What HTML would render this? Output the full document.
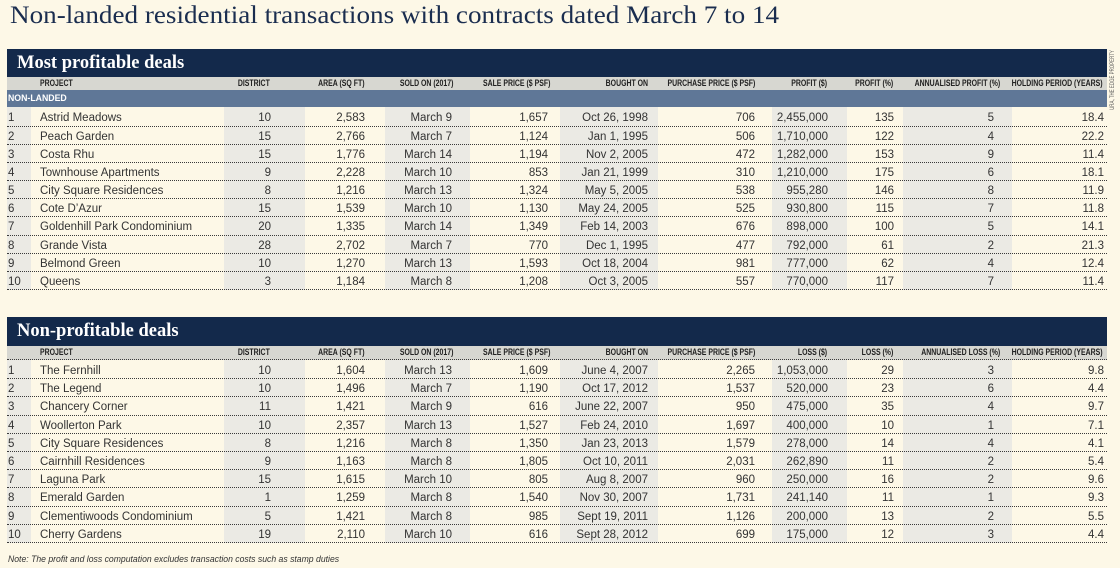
<!DOCTYPE html>
<html>
<head>
<meta charset="utf-8">
<style>
html,body{margin:0;padding:0;}
body{width:1120px;height:568px;background:#fdf8e7;position:relative;overflow:hidden;font-family:"Liberation Sans",Arial,sans-serif;color:#333;}
.title{position:absolute;left:10px;top:2.5px;font-family:"Liberation Serif",serif;font-size:25px;line-height:25px;color:#1a2d4f;white-space:nowrap;transform:scaleX(1.085);transform-origin:left center;}
.sec{position:absolute;left:7px;width:1100px;}
.band{position:relative;background:#13294b;}
.band .t{position:absolute;left:10px;top:4.5px;font-family:"Liberation Serif",serif;font-weight:bold;font-size:18.5px;line-height:18.5px;color:#fff;white-space:nowrap;}
.h{display:flex;background:#d7d7d1;box-sizing:border-box;}
.h>span{position:relative;flex:none;height:100%;}
.h b{position:absolute;top:0;white-space:nowrap;font-size:9.5px;font-weight:bold;color:#222;transform:scaleX(.73);transform-origin:right center;}
.h span:nth-child(2) b{left:9px;transform-origin:left center;}
.h span:nth-child(3) b{right:35px}
.h span:nth-child(4) b{right:20px}
.h span:nth-child(5) b{right:17px}
.h span:nth-child(6) b{right:10px}
.h span:nth-child(7) b{right:10px}
.h span:nth-child(8) b{right:17px}
.h span:nth-child(9) b{right:20px}
.h span:nth-child(10) b{right:10px}
.h span:nth-child(11) b{right:12px}
.h span:nth-child(12) b{right:4px}
.nl{background:#5f7797;height:17px;line-height:17px;color:#fff;font-weight:bold;font-size:9.5px;}
.nl b{display:inline-block;margin-left:1px;transform:scaleX(.92);transform-origin:left center;}
.body{position:relative;}
.st{position:absolute;top:0;bottom:0;background:#ebeae4;}
.r{position:relative;display:flex;box-sizing:border-box;border-bottom:1px dotted #3a3a3a;font-size:11.5px;white-space:nowrap;}
.r>span{flex:none;box-sizing:border-box;text-align:right;overflow:visible;}
.r>span:nth-child(1),.h>span:nth-child(1){width:24px}
.r>span:nth-child(1){text-align:left;padding-left:1px}
.r>span:nth-child(2),.h>span:nth-child(2){width:193px}
.r>span:nth-child(2){text-align:left;padding-left:9px}
.r>span:nth-child(3),.h>span:nth-child(3){width:81px}
.r>span:nth-child(3){padding-right:34px}
.r>span:nth-child(4),.h>span:nth-child(4){width:80px}
.r>span:nth-child(4){padding-right:20px}
.r>span:nth-child(5),.h>span:nth-child(5){width:85px}
.r>span:nth-child(5){padding-right:18px}
.r>span:nth-child(6),.h>span:nth-child(6){width:90px}
.r>span:nth-child(6){padding-right:12px}
.r>span:nth-child(7),.h>span:nth-child(7){width:98px}
.r>span:nth-child(7){padding-right:10px}
.r>span:nth-child(8),.h>span:nth-child(8){width:114px}
.r>span:nth-child(8){padding-right:17px}
.r>span:nth-child(9),.h>span:nth-child(9){width:75px}
.r>span:nth-child(9){padding-right:19px}
.r>span:nth-child(10),.h>span:nth-child(10){width:56px}
.r>span:nth-child(10){padding-right:9px}
.r>span:nth-child(11),.h>span:nth-child(11){width:109px}
.r>span:nth-child(11){padding-right:18px}
.r>span:nth-child(12),.h>span:nth-child(12){width:95px}
.r>span:nth-child(12){padding-right:3px}
.s1 .r{height:18.1px;line-height:20px;}
.s1 .r.first{height:20px;line-height:23px;}
.s2 .r{height:18.2px;line-height:20px;}
.note{position:absolute;left:8px;top:554px;font-size:9.5px;font-style:italic;color:#333;white-space:nowrap;transform:scaleX(.91);transform-origin:left center;line-height:12px;}
.credit{position:absolute;left:1063px;top:76px;width:100px;height:8px;line-height:8px;text-align:center;font-size:6.5px;color:#555;white-space:nowrap;transform:rotate(-90deg) scaleX(.68);transform-origin:50% 50%;}
</style>
</head>
<body>
<div class="title">Non-landed residential transactions with contracts dated March 7 to 14</div>
<div class="credit">URA, THE EDGE PROPERTY</div>

<div class="sec s1" style="top:49px;">
  <div class="band" style="height:28px;"><div class="t">Most profitable deals</div></div>
  <div class="h" style="height:13px;">
    <span></span><span><b style="line-height:13px">PROJECT</b></span><span><b style="line-height:13px">DISTRICT</b></span><span><b style="line-height:13px">AREA (SQ FT)</b></span><span><b style="line-height:13px">SOLD ON (2017)</b></span><span><b style="line-height:13px">SALE PRICE ($ PSF)</b></span><span><b style="line-height:13px">BOUGHT ON</b></span><span><b style="line-height:13px">PURCHASE PRICE ($ PSF)</b></span><span><b style="line-height:13px">PROFIT ($)</b></span><span><b style="line-height:13px">PROFIT (%)</b></span><span><b style="line-height:13px">ANNUALISED PROFIT (%)</b></span><span><b style="line-height:13px">HOLDING PERIOD (YEARS)</b></span>
  </div>
  <div class="nl"><b>NON-LANDED</b></div>
  <div class="body">
    <div class="st" style="left:0;width:24px"></div>
    <div class="st" style="left:217px;width:81px"></div>
    <div class="st" style="left:378px;width:85px"></div>
    <div class="st" style="left:553px;width:98px"></div>
    <div class="st" style="left:765px;width:75px"></div>
    <div class="st" style="left:896px;width:109px"></div>
    <div class="r first"><span>1</span><span>Astrid Meadows</span><span>10</span><span>2,583</span><span>March 9</span><span>1,657</span><span>Oct 26, 1998</span><span>706</span><span>2,455,000</span><span>135</span><span>5</span><span>18.4</span></div>
    <div class="r"><span>2</span><span>Peach Garden</span><span>15</span><span>2,766</span><span>March 7</span><span>1,124</span><span>Jan 1, 1995</span><span>506</span><span>1,710,000</span><span>122</span><span>4</span><span>22.2</span></div>
    <div class="r"><span>3</span><span>Costa Rhu</span><span>15</span><span>1,776</span><span>March 14</span><span>1,194</span><span>Nov 2, 2005</span><span>472</span><span>1,282,000</span><span>153</span><span>9</span><span>11.4</span></div>
    <div class="r"><span>4</span><span>Townhouse Apartments</span><span>9</span><span>2,228</span><span>March 10</span><span>853</span><span>Jan 21, 1999</span><span>310</span><span>1,210,000</span><span>175</span><span>6</span><span>18.1</span></div>
    <div class="r"><span>5</span><span>City Square Residences</span><span>8</span><span>1,216</span><span>March 13</span><span>1,324</span><span>May 5, 2005</span><span>538</span><span>955,280</span><span>146</span><span>8</span><span>11.9</span></div>
    <div class="r"><span>6</span><span>Cote D’Azur</span><span>15</span><span>1,539</span><span>March 10</span><span>1,130</span><span>May 24, 2005</span><span>525</span><span>930,800</span><span>115</span><span>7</span><span>11.8</span></div>
    <div class="r"><span>7</span><span>Goldenhill Park Condominium</span><span>20</span><span>1,335</span><span>March 14</span><span>1,349</span><span>Feb 14, 2003</span><span>676</span><span>898,000</span><span>100</span><span>5</span><span>14.1</span></div>
    <div class="r"><span>8</span><span>Grande Vista</span><span>28</span><span>2,702</span><span>March 7</span><span>770</span><span>Dec 1, 1995</span><span>477</span><span>792,000</span><span>61</span><span>2</span><span>21.3</span></div>
    <div class="r"><span>9</span><span>Belmond Green</span><span>10</span><span>1,270</span><span>March 13</span><span>1,593</span><span>Oct 18, 2004</span><span>981</span><span>777,000</span><span>62</span><span>4</span><span>12.4</span></div>
    <div class="r"><span>10</span><span>Queens</span><span>3</span><span>1,184</span><span>March 8</span><span>1,208</span><span>Oct 3, 2005</span><span>557</span><span>770,000</span><span>117</span><span>7</span><span>11.4</span></div>
  </div>
</div>

<div class="sec s2" style="top:317px;">
  <div class="band" style="height:29px;"><div class="t" style="top:5px">Non-profitable deals</div></div>
  <div class="h" style="height:14px;border-bottom:1px dotted #3a3a3a;">
    <span></span><span><b style="line-height:13px">PROJECT</b></span><span><b style="line-height:13px">DISTRICT</b></span><span><b style="line-height:13px">AREA (SQ FT)</b></span><span><b style="line-height:13px">SOLD ON (2017)</b></span><span><b style="line-height:13px">SALE PRICE ($ PSF)</b></span><span><b style="line-height:13px">BOUGHT ON</b></span><span><b style="line-height:13px">PURCHASE PRICE ($ PSF)</b></span><span><b style="line-height:13px">LOSS ($)</b></span><span><b style="line-height:13px">LOSS (%)</b></span><span><b style="line-height:13px">ANNUALISED LOSS (%)</b></span><span><b style="line-height:13px">HOLDING PERIOD (YEARS)</b></span>
  </div>
  <div class="body">
    <div class="st" style="left:0;width:24px"></div>
    <div class="st" style="left:217px;width:81px"></div>
    <div class="st" style="left:378px;width:85px"></div>
    <div class="st" style="left:553px;width:98px"></div>
    <div class="st" style="left:765px;width:75px"></div>
    <div class="st" style="left:896px;width:109px"></div>
    <div class="r" style="height:19.3px;line-height:22px"><span>1</span><span>The Fernhill</span><span>10</span><span>1,604</span><span>March 13</span><span>1,609</span><span>June 4, 2007</span><span>2,265</span><span>1,053,000</span><span>29</span><span>3</span><span>9.8</span></div>
    <div class="r"><span>2</span><span>The Legend</span><span>10</span><span>1,496</span><span>March 7</span><span>1,190</span><span>Oct 17, 2012</span><span>1,537</span><span>520,000</span><span>23</span><span>6</span><span>4.4</span></div>
    <div class="r"><span>3</span><span>Chancery Corner</span><span>11</span><span>1,421</span><span>March 9</span><span>616</span><span>June 22, 2007</span><span>950</span><span>475,000</span><span>35</span><span>4</span><span>9.7</span></div>
    <div class="r"><span>4</span><span>Woollerton Park</span><span>10</span><span>2,357</span><span>March 13</span><span>1,527</span><span>Feb 24, 2010</span><span>1,697</span><span>400,000</span><span>10</span><span>1</span><span>7.1</span></div>
    <div class="r"><span>5</span><span>City Square Residences</span><span>8</span><span>1,216</span><span>March 8</span><span>1,350</span><span>Jan 23, 2013</span><span>1,579</span><span>278,000</span><span>14</span><span>4</span><span>4.1</span></div>
    <div class="r"><span>6</span><span>Cairnhill Residences</span><span>9</span><span>1,163</span><span>March 8</span><span>1,805</span><span>Oct 10, 2011</span><span>2,031</span><span>262,890</span><span>11</span><span>2</span><span>5.4</span></div>
    <div class="r"><span>7</span><span>Laguna Park</span><span>15</span><span>1,615</span><span>March 10</span><span>805</span><span>Aug 8, 2007</span><span>960</span><span>250,000</span><span>16</span><span>2</span><span>9.6</span></div>
    <div class="r"><span>8</span><span>Emerald Garden</span><span>1</span><span>1,259</span><span>March 8</span><span>1,540</span><span>Nov 30, 2007</span><span>1,731</span><span>241,140</span><span>11</span><span>1</span><span>9.3</span></div>
    <div class="r"><span>9</span><span>Clementiwoods Condominium</span><span>5</span><span>1,421</span><span>March 8</span><span>985</span><span>Sept 19, 2011</span><span>1,126</span><span>200,000</span><span>13</span><span>2</span><span>5.5</span></div>
    <div class="r"><span>10</span><span>Cherry Gardens</span><span>19</span><span>2,110</span><span>March 10</span><span>616</span><span>Sept 28, 2012</span><span>699</span><span>175,000</span><span>12</span><span>3</span><span>4.4</span></div>
  </div>
</div>

<div class="note">Note: The profit and loss computation excludes transaction costs such as stamp duties</div>
</body>
</html>
